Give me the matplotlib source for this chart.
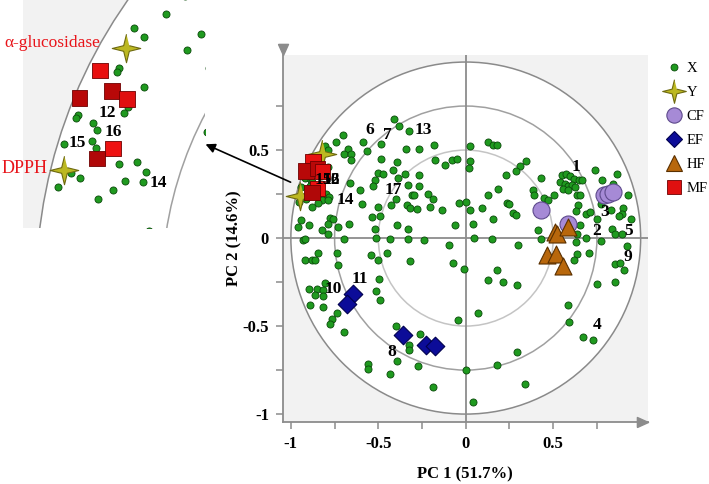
import numpy as np
import matplotlib
matplotlib.use("Agg")
import matplotlib.pyplot as plt
from matplotlib.lines import Line2D
from matplotlib.patches import Circle
from matplotlib.ticker import FixedLocator, FixedFormatter

plt.rcParams["font.family"] = ["Liberation Serif", "DejaVu Serif"]

# X variables: (PC1, PC2) loadings
x_loadings = [
    (-0.410, 0.676), (-0.383, 0.635), (-0.322, 0.606), (-0.703, 0.584), (-0.585, 0.545),
    (-0.484, 0.536), (-0.341, 0.508), (-0.267, 0.508), (-0.181, 0.527), (-0.671, 0.508),
    (-0.699, 0.476), (-0.655, 0.476), (-0.562, 0.494), (-0.657, 0.441), (-0.484, 0.449),
    (-0.394, 0.432), (-0.175, 0.441), (-0.118, 0.413), (-0.080, 0.441), (-0.051, 0.449),
    (0.025, 0.521), (0.025, 0.438), (0.021, 0.400), (0.129, 0.545), (0.154, 0.527),
    (0.177, 0.527), (-0.499, 0.372), (-0.471, 0.366), (-0.414, 0.385), (-0.347, 0.362),
    (-0.267, 0.356), (-0.518, 0.328), (-0.385, 0.343), (-0.528, 0.294), (-0.328, 0.299),
    (-0.267, 0.294), (-0.660, 0.313), (-0.604, 0.271), (-0.594, 0.191), (-0.499, 0.176),
    (-0.427, 0.186), (-0.398, 0.224), (-0.309, 0.243), (-0.295, 0.243), (-0.337, 0.186),
    (-0.318, 0.173), (-0.280, 0.163), (-0.217, 0.248), (-0.189, 0.224), (-0.204, 0.176),
    (-0.137, 0.161), (-0.037, 0.199), (0.002, 0.205), (0.025, 0.157), (0.091, 0.170),
    (0.129, 0.243), (0.186, 0.281), (-0.943, 0.101), (-0.957, 0.063), (-0.899, 0.076),
    (-0.775, 0.116), (-0.757, 0.110), (-0.785, 0.078), (-0.731, 0.063), (-0.665, 0.082),
    (-0.823, 0.048), (-0.785, 0.025), (-0.695, -0.003), (-0.931, -0.013), (-0.918, -0.006),
    (-0.537, 0.119), (-0.490, 0.123), (-0.518, 0.053), (-0.394, 0.076), (-0.330, 0.049),
    (-0.328, -0.003), (-0.433, -0.003), (-0.513, 0.002), (-0.238, -0.013), (-0.061, 0.076),
    (0.040, 0.082), (0.047, 0.002), (0.149, -0.003), (-0.094, -0.041), (-0.846, -0.085),
    (-0.918, -0.123), (-0.880, -0.127), (-0.861, -0.127), (-0.737, -0.085), (-0.731, -0.155),
    (-0.541, -0.098), (-0.499, -0.127), (-0.451, -0.085), (-0.318, -0.132), (-0.074, -0.142),
    (-0.008, -0.174), (0.177, -0.180), (0.129, -0.240), (-0.494, -0.231), (-0.807, -0.257),
    (-0.895, -0.291), (-0.853, -0.291), (-0.815, -0.294), (-0.861, -0.326), (-0.818, -0.328),
    (0.345, 0.438), (0.310, 0.407), (0.286, 0.381), (0.230, 0.356), (0.430, 0.343),
    (0.238, 0.199), (0.249, 0.195), (0.272, 0.142), (0.287, 0.129), (0.158, 0.110),
    (0.386, 0.271), (0.390, 0.243), (0.447, 0.230), (0.472, 0.218), (0.505, 0.243),
    (0.549, 0.356), (0.573, 0.362), (0.596, 0.351), (0.621, 0.338), (0.649, 0.332),
    (0.663, 0.328), (0.539, 0.318), (0.567, 0.305), (0.586, 0.294), (0.606, 0.299),
    (0.554, 0.281), (0.583, 0.275), (0.625, 0.290), (0.638, 0.247), (0.653, 0.243),
    (0.739, 0.385), (0.777, 0.328), (0.863, 0.362), (0.843, 0.309), (0.929, 0.243),
    (0.640, 0.186), (0.630, 0.153), (0.686, 0.135), (0.710, 0.148), (0.771, 0.191),
    (0.830, 0.161), (0.901, 0.170), (0.891, 0.139), (0.878, 0.123), (0.943, 0.110),
    (0.752, 0.106), (0.653, 0.076), (0.415, 0.048), (0.430, -0.007), (0.634, 0.021),
    (0.629, -0.023), (0.687, 0.002), (0.771, -0.019), (0.834, 0.053), (0.853, 0.021),
    (0.891, 0.021), (0.920, -0.047), (0.301, -0.041), (0.634, -0.089), (0.621, -0.123),
    (0.706, -0.085), (0.853, -0.149), (0.882, -0.142), (0.905, -0.184), (0.749, -0.259),
    (0.853, -0.250), (0.215, -0.250), (0.295, -0.269),
    (0.072, -0.426), (0.586, -0.382), (0.590, -0.477), (0.669, -0.563), (0.729, -0.577),
    (0.295, -0.648), (0.177, -0.720), (0.339, -0.827),
    (-0.890, -0.382), (-0.814, -0.392), (-0.737, -0.426), (-0.766, -0.458), (-0.775, -0.490),
    (-0.699, -0.534), (-0.513, -0.301), (-0.490, -0.350), (-0.042, -0.464), (-0.398, -0.502),
    (-0.261, -0.543), (-0.322, -0.610), (-0.322, -0.634), (-0.391, -0.699), (-0.274, -0.729),
    (-0.557, -0.714), (-0.557, -0.742), (-0.433, -0.774), (-0.185, -0.847), (0.000, -0.748),
    (0.040, -0.932),
    # cluster near the Y variables
    (-0.742, 0.548), (-0.806, 0.521), (-0.785, 0.503), (-0.835, 0.441), (-0.840, 0.433),
    (-0.785, 0.402), (-0.818, 0.362), (-0.825, 0.350), (-0.916, 0.347), (-0.921, 0.342),
    (-0.886, 0.332), (-0.879, 0.318), (-0.888, 0.296), (-0.881, 0.282), (-0.944, 0.290),
    (-0.835, 0.249), (-0.800, 0.253), (-0.782, 0.234), (-0.823, 0.215), (-0.788, 0.214),
    (-0.846, 0.197), (-0.913, 0.221), (-0.931, 0.232), (-0.956, 0.204), (-0.877, 0.179),
]

# Y variables
y_names = ["α-glucosidase", "DPPH"]
y_pc1 = [-0.822, -0.945]
y_pc2 = [0.480, 0.238]

# sample groups
cf_pc1 = [0.430, 0.587, 0.790, 0.815, 0.840]
cf_pc2 = [0.157, 0.078, 0.245, 0.250, 0.260]
ef_pc1 = [-0.642, -0.680, -0.360, -0.229, -0.175]
ef_pc2 = [-0.316, -0.377, -0.553, -0.606, -0.615]
hf_pc1 = [0.510, 0.522, 0.583, 0.465, 0.518, 0.555]
hf_pc2 = [0.035, 0.025, 0.060, -0.095, -0.090, -0.158]
mf_pc1 = [-0.873, -0.913, -0.849, -0.819, -0.847, -0.879]
mf_pc2 = [0.435, 0.381, 0.395, 0.379, 0.281, 0.261]
mf_shade = ["#e81010", "#b80808", "#b80808", "#e01010", "#ee1212", "#b00808"]

# sample numbers shown on the main plot
num_text = ["1", "2", "3", "4", "5", "6", "7", "8", "9", "10", "11", "13", "17", "14", "15", "12", "16"]
num_x = [0.628, 0.749, 0.792, 0.749, 0.933, -0.547, -0.451, -0.423, 0.929,
         -0.757, -0.604, -0.242, -0.417, -0.690, -0.814, -0.769, -0.769]
num_y = [0.403, 0.040, 0.148, -0.496, 0.040, 0.612, 0.583, -0.648, -0.108,
         -0.288, -0.231, 0.612, 0.275, 0.214, 0.328, 0.328, 0.328]

# numbers shown in the zoomed inset
zoom_text = ["12", "16", "15", "14"]
zoom_x = [-0.859, -0.847, -0.919, -0.757]
zoom_y = [0.351, 0.313, 0.291, 0.211]

GREEN, GREEN_E = "#1f9a1f", "#0b4a0b"
OLIVE, OLIVE_E = "#bcb821", "#6e6a10"
LILAC, LILAC_E = "#a68ad6", "#5e4a8c"
NAVY, NAVY_E = "#0c0c98", "#00004e"
BROWN, BROWN_E = "#b8670c", "#5a3000"
RED_E = "#6e0000"

ang = np.deg2rad(np.arange(8) * 45 + 90)
rad = np.where(np.arange(8) % 2 == 0, 1.0, 0.28)
STAR = np.column_stack([rad * np.cos(ang), rad * np.sin(ang)])


def draw_panel(ax):
    ax.set_facecolor("#f2f2f2")
    ax.add_patch(Circle((0, 0), 1.0, fc="white", ec="none", zorder=0))
    for r, c in ((1.0, "#8a8a8a"), (0.75, "#a0a0a0"), (0.5, "#c4c4c4")):
        ax.add_patch(Circle((0, 0), r, fill=False, ec=c, lw=1.1, zorder=1))
    xs, ys = zip(*x_loadings)
    ax.scatter(xs, ys, s=26, c=GREEN, edgecolors=GREEN_E, linewidths=0.6, zorder=3)
    ax.scatter(y_pc1, y_pc2, s=420, marker=STAR, c=OLIVE, edgecolors=OLIVE_E, linewidths=0.8, zorder=4)
    ax.scatter(cf_pc1, cf_pc2, s=150, marker="o", c=LILAC, edgecolors=LILAC_E, linewidths=0.8, zorder=4)
    ax.scatter(ef_pc1, ef_pc2, s=90, marker="D", c=NAVY, edgecolors=NAVY_E, linewidths=0.8, zorder=4)
    ax.scatter(hf_pc1, hf_pc2, s=150, marker="^", c=BROWN, edgecolors=BROWN_E, linewidths=0.8, zorder=4)
    ax.scatter(mf_pc1, mf_pc2, s=120, marker="s", c=mf_shade, edgecolors=RED_E, linewidths=0.6, zorder=5)


fig = plt.figure(figsize=(7.09, 4.84), dpi=100)

# main loading plot
ax = fig.add_axes([283 / 709, 62 / 484, 365 / 709, 367 / 484])
draw_panel(ax)
ax.set_xlim(-1.045, 1.042)
ax.set_ylim(-1.045, 1.04)
ax.axhline(0, color="#8c8c8c", lw=1.3, zorder=2)
ax.axvline(0, color="#8c8c8c", lw=1.3, zorder=2)

for sp in ("top", "right"):
    ax.spines[sp].set_visible(False)
for sp in ("left", "bottom"):
    ax.spines[sp].set_color("#8c8c8c")
    ax.spines[sp].set_linewidth(1.3)
ARROW = [(-1.0, -0.45), (0.0, 0.0), (-1.0, 0.45), (-1.0, -0.45)]
ax.plot([1.0], [0.0], transform=ax.transAxes, marker=ARROW, ms=16, color="#8c8c8c",
        clip_on=False, zorder=6)
ax.plot([0.0], [1.0], transform=ax.transAxes, marker=[(y, -x) for x, y in ARROW][::-1],
        ms=16, color="#8c8c8c", clip_on=False, zorder=6)

ticks = [-1, -0.5, 0, 0.5]
for axis in (ax.xaxis, ax.yaxis):
    axis.set_major_locator(FixedLocator(ticks))
    axis.set_major_formatter(FixedFormatter(["-1", "-0.5", "0", "0.5"]))
    axis.set_minor_locator(FixedLocator([-0.75, -0.25, 0.25, 0.75]))
ax.tick_params(which="both", direction="out", length=5, width=1.1, color="#8c8c8c",
               labelsize=12, pad=5)
for lab in ax.get_xticklabels() + ax.get_yticklabels():
    lab.set_fontweight("bold")

ax.set_xlabel("PC 1 (51.7%)", fontsize=12, fontweight="bold")
ax.set_ylabel("PC 2 (14.6%)", fontsize=12, fontweight="bold")
ax.xaxis.set_label_coords(0.499, -0.12)
ax.yaxis.set_label_coords(-0.11, 0.5)

for t, x, y in zip(num_text, num_x, num_y):
    ax.text(x, y, t, fontsize=12.5, fontweight="bold", ha="center", va="center", zorder=7)

handles = [
    Line2D([], [], ls="none", marker="o", ms=5, mfc=GREEN, mec=GREEN_E, mew=0.6),
    Line2D([], [], ls="none", marker=STAR, ms=17, mfc=OLIVE, mec=OLIVE_E, mew=0.8),
    Line2D([], [], ls="none", marker="o", ms=11, mfc=LILAC, mec=LILAC_E, mew=0.8),
    Line2D([], [], ls="none", marker="D", ms=8, mfc=NAVY, mec=NAVY_E, mew=0.8),
    Line2D([], [], ls="none", marker="^", ms=11, mfc=BROWN, mec=BROWN_E, mew=0.8),
    Line2D([], [], ls="none", marker="s", ms=10, mfc="#e01010", mec=RED_E, mew=0.6),
]
fig.legend(handles, ["X", "Y", "CF", "EF", "HF", "MF"], loc="upper left",
           bbox_to_anchor=(666 / 709, (484 - 62) / 484), frameon=False, fontsize=10.5,
           handlelength=1.1, handletextpad=0.3, labelspacing=0.74,
           borderpad=0, borderaxespad=0)

# zoomed inset of the Y region
axin = fig.add_axes([23 / 709, (484 - 228) / 484, 182 / 709, 228 / 484])
draw_panel(axin)
axin.set_xlim(-1.026, -0.664)
axin.set_ylim(0.122, 0.576)
axin.set_xticks([])
axin.set_yticks([])
for sp in axin.spines.values():
    sp.set_visible(False)

for t, x, y in zip(zoom_text, zoom_x, zoom_y):
    axin.text(x, y, t, fontsize=12.5, fontweight="bold", ha="center", va="center", zorder=7)
axin.text(-0.873, 0.490, y_names[0], color="#e8141a", fontsize=12.5, ha="right",
          va="center", clip_on=False, zorder=7)
axin.text(-0.978, 0.241, y_names[1], color="#e8141a", fontsize=13, ha="right",
          va="center", clip_on=False, zorder=7)

axin.annotate("", xy=(-0.668, 0.291), xycoords=axin.transData,
              xytext=(-0.987, 0.311), textcoords=ax.transData,
              arrowprops=dict(arrowstyle="-|>", color="black", lw=1.2, mutation_scale=14),
              annotation_clip=False, zorder=8)

fig.savefig("out.png", dpi=100)
